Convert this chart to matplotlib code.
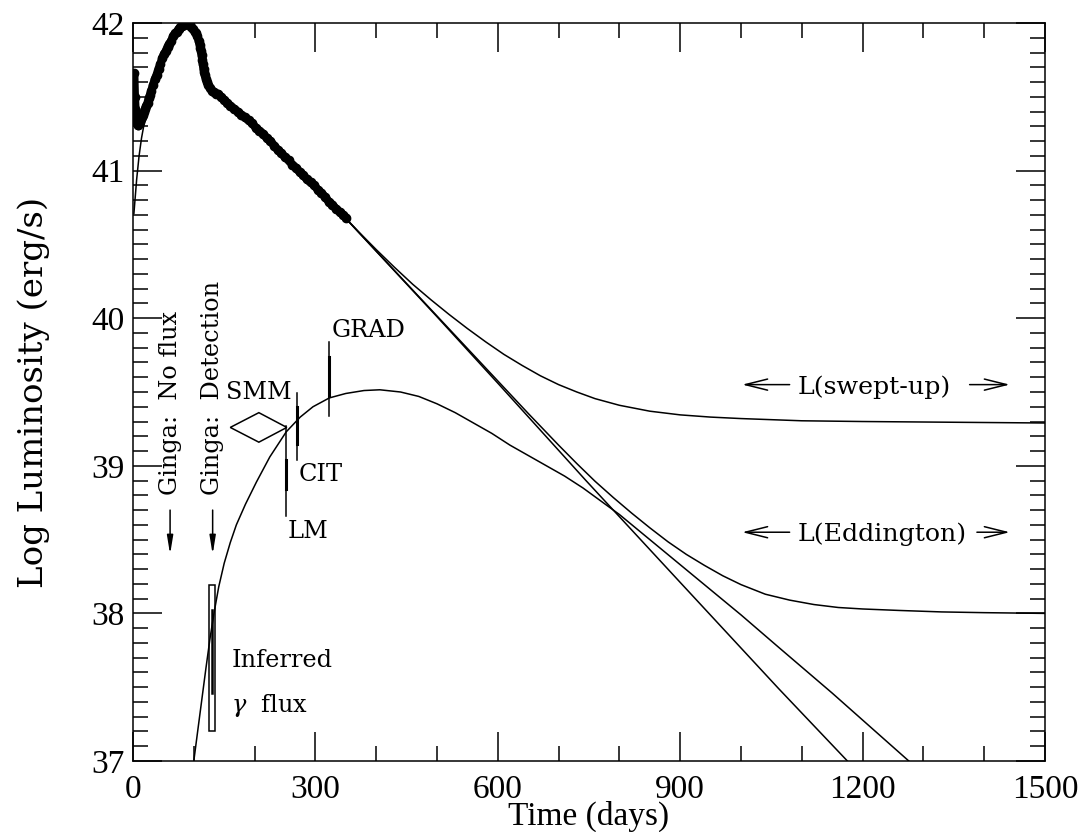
"""
Bolometric light curve of SN 1987A with late-time model curves
(gamma-ray deposition, swept-up and Eddington luminosity limits).
"""

import numpy as np
import matplotlib.pyplot as plt
from matplotlib.ticker import MultipleLocator
from matplotlib.patches import Rectangle, Polygon

plt.rcParams['mathtext.fontset'] = 'dejavuserif'

# observed bolometric light curve (days, log L)
lc_day = [2, 3, 4, 5, 6, 7, 8, 9, 10, 11, 12, 13, 14, 16, 18, 20, 22, 24, 26, 28,
          30, 33, 36, 39, 42, 45, 48, 51, 54, 57, 60, 63, 66, 69, 72, 75, 78, 81,
          84, 87, 90, 93, 96, 99, 102, 104, 106, 108, 110, 111, 112, 113, 114,
          115, 116, 117, 118, 120, 122, 124, 127, 130, 133, 136, 140, 145, 150,
          155, 160, 166, 172, 178, 184, 190, 196, 202, 208, 214, 220, 226, 232,
          238, 244, 250, 256, 262, 268, 274, 280, 286, 292, 298, 304, 310, 316,
          322, 328, 334, 340, 346, 351]
lc_lum = [41.66, 41.50, 41.42, 41.36, 41.33, 41.32, 41.31, 41.31, 41.32, 41.33,
          41.34, 41.35, 41.36, 41.38, 41.40, 41.42, 41.44, 41.46, 41.49, 41.51,
          41.54, 41.58, 41.62, 41.65, 41.69, 41.72, 41.76, 41.79, 41.81, 41.84,
          41.86, 41.88, 41.91, 41.93, 41.94, 41.96, 41.97, 41.98, 41.985, 41.99,
          41.99, 41.985, 41.975, 41.96, 41.94, 41.93, 41.91, 41.88, 41.85, 41.83,
          41.81, 41.78, 41.75, 41.72, 41.69, 41.67, 41.65, 41.62, 41.60, 41.58,
          41.56, 41.54, 41.53, 41.52, 41.52, 41.50, 41.48, 41.46, 41.44, 41.42,
          41.40, 41.38, 41.36, 41.34, 41.32, 41.29, 41.27, 41.25, 41.22, 41.20,
          41.17, 41.14, 41.12, 41.09, 41.07, 41.04, 41.02, 40.99, 40.97, 40.94,
          40.92, 40.90, 40.87, 40.85, 40.82, 40.79, 40.77, 40.74, 40.72, 40.70,
          40.68]

# early model rise
early_day = [1.5, 6, 10, 14, 18, 22]
early_lum = [40.71, 40.94, 41.10, 41.22, 41.31, 41.38]

# late models
decay_day = [340, 500, 600, 745, 900, 1062, 1175]
decay_lum = [40.72, 40.01, 39.56, 38.90, 38.21, 37.49, 37.0]

edd_day = [340, 400, 450, 500, 550, 600, 650, 700, 730, 760, 790, 820, 850, 880,
           910, 940, 970, 1000, 1040, 1080, 1120, 1160, 1200, 1260, 1330, 1400, 1500]
edd_lum = [40.72, 40.455, 40.235, 40.015, 39.795, 39.575, 39.355, 39.14, 39.015,
           38.895, 38.785, 38.68, 38.58, 38.485, 38.40, 38.325, 38.255, 38.195,
           38.13, 38.09, 38.06, 38.04, 38.03, 38.02, 38.01, 38.005, 38.0]

swept_day = [340, 370, 400, 430, 460, 490, 520, 550, 580, 610, 640, 670, 700, 730,
             760, 800, 850, 900, 950, 1000, 1100, 1200, 1350, 1500]
swept_lum = [40.72, 40.59, 40.465, 40.345, 40.23, 40.125, 40.025, 39.93, 39.84,
             39.755, 39.68, 39.61, 39.55, 39.50, 39.455, 39.41, 39.37, 39.345,
             39.33, 39.32, 39.305, 39.30, 39.295, 39.29]

gamma_day = [100, 106, 113, 120, 127, 134, 141, 150, 160, 170, 185, 203, 225, 252,
             275, 296, 323, 350, 380, 406, 440, 470, 500, 530, 560, 590, 620, 650,
             680, 710, 740, 770, 800, 850, 900, 950, 1000, 1062, 1150, 1276]
gamma_lum = [37.0, 37.19, 37.41, 37.63, 37.84, 38.02, 38.18, 38.34, 38.48, 38.60,
             38.74, 38.89, 39.06, 39.23, 39.33, 39.40, 39.46, 39.49, 39.51, 39.515,
             39.50, 39.47, 39.42, 39.36, 39.29, 39.22, 39.14, 39.07, 39.00, 38.93,
             38.85, 38.76, 38.67, 38.50, 38.33, 38.16, 37.99, 37.77, 37.46, 37.0]

# gamma-ray observations
smm_day = [160, 207, 253, 207]
smm_lum = [39.26, 39.36, 39.26, 39.16]
bars = {'LM': (252, 38.66, 39.27, 38.84, 39.04),
        'CIT': (270, 39.04, 39.49, 39.15, 39.40),
        'GRAD': (322, 39.34, 39.84, 39.47, 39.74)}
ginga_day = [61, 131]
ginga_lum = [38.70, 38.40]
box_day = [124.8, 134.6]
box_lum = [37.20, 38.19]
box_bar = [37.46, 38.02]

fig = plt.figure(figsize=(10.83, 8.32), dpi=100)
ax = fig.add_axes([133/1083, 1-761/832, 912/1083, 738/832])

ax.plot(lc_day, lc_lum, '-', color='black', lw=6, solid_capstyle='round')
ax.plot(lc_day, lc_lum, 'o', color='black', ms=6)
ax.plot(early_day, early_lum, '-', color='black', lw=1.1)
ax.plot(decay_day, decay_lum, '-', color='black', lw=1.1)
ax.plot(edd_day, edd_lum, '-', color='black', lw=1.1)
ax.plot(swept_day, swept_lum, '-', color='black', lw=1.1)
ax.plot(gamma_day, gamma_lum, '-', color='black', lw=1.1)

ax.add_patch(Polygon(np.column_stack([smm_day, smm_lum]), closed=True,
                     fill=False, lw=1.1, ec='black'))
for name, (d, lo, hi, tlo, thi) in bars.items():
    ax.plot([d, d], [lo, hi], color='black', lw=1.1)
    ax.plot([d, d], [tlo, thi], color='black', lw=2.2)
ax.add_patch(Rectangle((box_day[0], box_lum[0]), box_day[1]-box_day[0],
                       box_lum[1]-box_lum[0], fill=False, lw=1.1, ec='black'))
ax.plot([np.mean(box_day)]*2, box_bar, color='black', lw=1.8)

for d in ginga_day:
    ax.annotate('', xy=(d, ginga_lum[1]), xytext=(d, ginga_lum[0]),
                arrowprops=dict(arrowstyle='-|>,head_length=1.1,head_width=0.18',
                                lw=1.1, color='black', mutation_scale=10,
                                shrinkA=0, shrinkB=0))

tf = dict(family='DejaVu Serif', fontsize=17.3, color='black')
ax.text(61, 38.80, 'Ginga:  No flux', rotation=90, ha='center', va='bottom', **tf)
ax.text(131, 38.80, 'Ginga:  Detection', rotation=90, ha='center', va='bottom', **tf)
ax.text(207, 39.45, 'SMM', ha='center', va='baseline', **tf)
ax.text(254, 38.63, 'LM', ha='left', va='top', **tf)
ax.text(273, 39.02, 'CIT', ha='left', va='top', **tf)
ax.text(326, 39.87, 'GRAD', ha='left', va='baseline', **tf)
ax.text(162, 37.64, 'Inferred', ha='left', va='baseline', **tf)
ax.text(162, 37.33, r'$\gamma$  flux', ha='left', va='baseline', **tf)

lf = dict(tf, fontsize=18.2)
for lab, y, tail in [('L(swept-up)', 39.55, 1376), ('L(Eddington)', 38.55, 1388)]:
    ax.text(1093, y, lab, ha='left', va='center_baseline', **lf)
    ax.annotate('', xy=(1002, y), xytext=(1080, y),
                arrowprops=dict(arrowstyle='->,head_length=1.6,head_width=0.4',
                                lw=1.1, color='black', mutation_scale=10,
                                shrinkA=0, shrinkB=0))
    ax.annotate('', xy=(1442, y), xytext=(tail, y),
                arrowprops=dict(arrowstyle='->,head_length=1.6,head_width=0.4',
                                lw=1.1, color='black', mutation_scale=10,
                                shrinkA=0, shrinkB=0))

ax.set_xlim(0, 1500)
ax.set_ylim(37, 42)
ax.set_xticks([0, 300, 600, 900, 1200, 1500])
ax.set_yticks([37, 38, 39, 40, 41, 42])
ax.xaxis.set_minor_locator(MultipleLocator(100))
ax.yaxis.set_minor_locator(MultipleLocator(0.1))
ax.tick_params(which='both', direction='in', top=True, right=True, width=1.1)
ax.tick_params(which='major', length=21)
ax.tick_params(which='minor', length=10.5)
ax.tick_params(axis='x', pad=10)
ax.tick_params(axis='y', pad=6)
for t in ax.get_xticklabels() + ax.get_yticklabels():
    t.set_family('Liberation Serif')
    t.set_fontsize(24)
for s in ax.spines.values():
    s.set_linewidth(1.1)

ax.set_xlabel('Time (days)', family='Liberation Serif', fontsize=24, va='baseline')
ax.xaxis.set_label_coords(0.5, -0.087)
ax.set_ylabel('Log Luminosity (erg/s)', family='DejaVu Serif', fontsize=24.5,
              labelpad=30)

fig.savefig('out.png', dpi=100)
